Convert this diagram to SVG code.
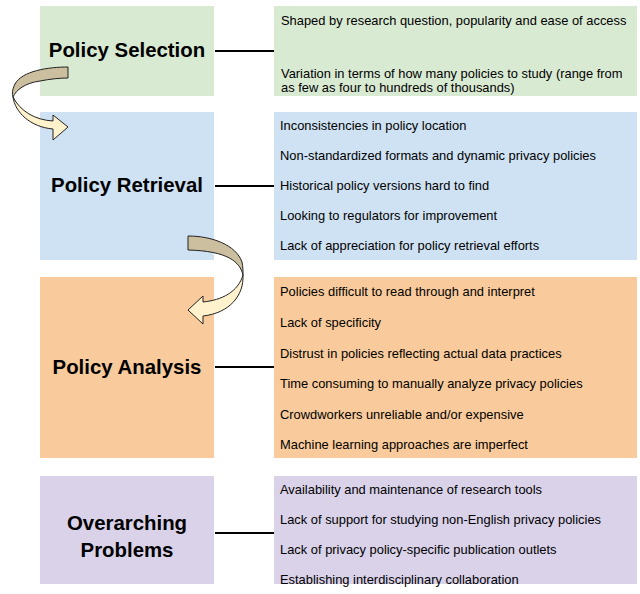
<svg xmlns="http://www.w3.org/2000/svg" width="640" height="594" viewBox="0 0 640 594">
<style>
.lbl{font-family:"Liberation Sans",Arial,sans-serif;font-weight:bold;font-size:20.4px;fill:#000;text-anchor:middle}
.itm{font-family:"Liberation Sans",Arial,sans-serif;font-size:12.9px;fill:#000}
.con{stroke:#000;stroke-width:2;fill:none}
.tan{fill:#CBBF9F;stroke:#222;stroke-width:1}
.crm{fill:#FFF2CC;stroke:#222;stroke-width:1}
.g{fill:#D9EAD3}.b{fill:#CFE2F3}.o{fill:#F9CB9C}.p{fill:#D9D2E9}
</style>
<g id="policy-selection">
<rect class="g" x="40" y="6" width="174" height="90"/>
<text class="lbl" x="127" y="57">Policy Selection</text>
</g>
<g id="selection-items">
<rect class="g" x="274" y="6" width="363" height="90"/>
<text class="itm" x="281" y="25">Shaped by research question, popularity and ease of access</text>
<text class="itm" x="281" y="78">Variation in terms of how many policies to study (range from</text>
<text class="itm" x="281" y="92">as few as four to hundreds of thousands)</text>
</g>
<g id="policy-retrieval">
<rect class="b" x="40" y="112" width="174" height="148"/>
<text class="lbl" x="127" y="192">Policy Retrieval</text>
</g>
<g id="retrieval-items">
<rect class="b" x="274" y="112" width="363" height="148"/>
<text class="itm" x="280" y="130">Inconsistencies in policy location</text>
<text class="itm" x="280" y="160">Non-standardized formats and dynamic privacy policies</text>
<text class="itm" x="280" y="190">Historical policy versions hard to find</text>
<text class="itm" x="280" y="220">Looking to regulators for improvement</text>
<text class="itm" x="280" y="250">Lack of appreciation for policy retrieval efforts</text>
</g>
<g id="policy-analysis">
<rect class="o" x="40" y="277" width="174" height="181"/>
<text class="lbl" x="127" y="374">Policy Analysis</text>
</g>
<g id="analysis-items">
<rect class="o" x="274" y="277" width="363" height="181"/>
<text class="itm" x="280" y="296">Policies difficult to read through and interpret</text>
<text class="itm" x="280" y="327">Lack of specificity</text>
<text class="itm" x="280" y="358">Distrust in policies reflecting actual data practices</text>
<text class="itm" x="280" y="388">Time consuming to manually analyze privacy policies</text>
<text class="itm" x="280" y="419">Crowdworkers unreliable and/or expensive</text>
<text class="itm" x="280" y="449">Machine learning approaches are imperfect</text>
</g>
<g id="overarching-problems">
<rect class="p" x="40" y="476" width="174" height="108"/>
<text class="lbl" x="127" y="530">Overarching</text>
<text class="lbl" x="127" y="557">Problems</text>
</g>
<g id="overarching-items">
<rect class="p" x="274" y="476" width="363" height="108"/>
<text class="itm" x="280" y="494">Availability and maintenance of research tools</text>
<text class="itm" x="280" y="524">Lack of support for studying non-English privacy policies</text>
<text class="itm" x="280" y="554">Lack of privacy policy-specific publication outlets</text>
<text class="itm" x="280" y="584">Establishing interdisciplinary collaboration</text>
</g>
<g id="connectors">
<line class="con" x1="215" y1="51" x2="274" y2="51"/>
<line class="con" x1="215" y1="186" x2="274" y2="186"/>
<line class="con" x1="215" y1="367" x2="274" y2="367"/>
<line class="con" x1="215" y1="533" x2="274" y2="533"/>
<g id="arrow-1">
<path class="tan" d="M68,67 C48,67 22,71 15,84 C12,90 12,94 13,97 C16,90 25,83 40,81 C50,79 60,78 68,78 Z"/>
<path class="crm" d="M13,97 C15,112 30,127 53,129 L53,140 L68,127 L53,115 L53,121 C35,120 20,111 13,97 Z"/>
</g>
<g id="arrow-2">
<path class="tan" d="M188,236 C212,236 236,245 242,262 C243,267 243,271 243,275 C240,262 228,251 188,250 Z"/>
<path class="crm" d="M243,275 C244,295 230,313 203,316 L203,324 L188,310 L203,296 L203,302 C222,300 238,292 243,275 Z"/>
</g>
</g>
</svg>
